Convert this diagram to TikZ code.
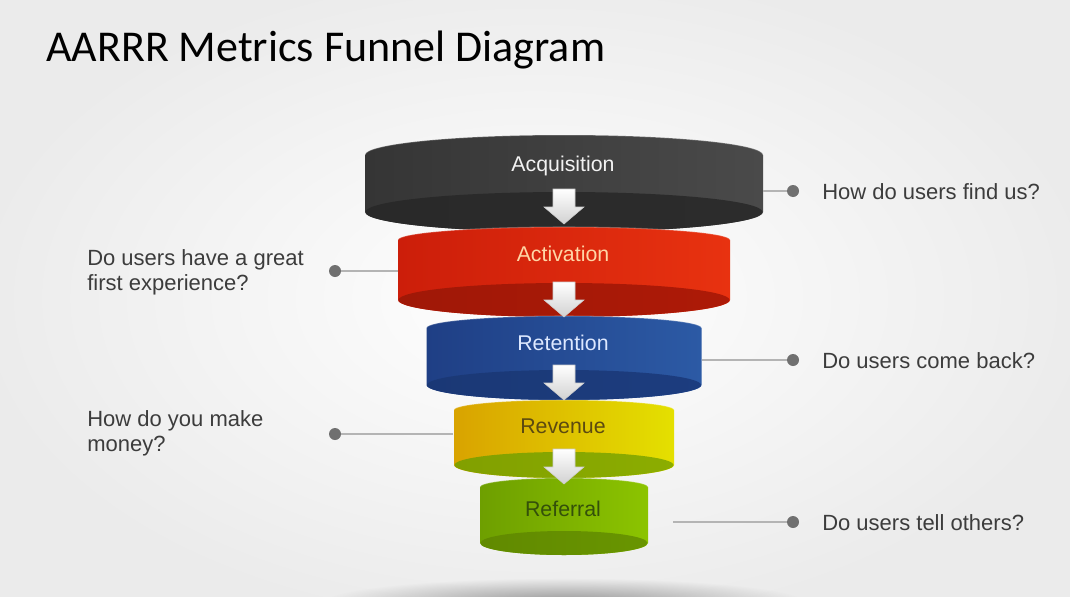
\documentclass[tikz,border=0pt]{standalone}
\usepackage{fontspec}
\setmainfont{Liberation Sans}
\newfontfamily\titlefont{Carlito}
\usetikzlibrary{fadings}
\tikzfading[name=softshadow, inner color=transparent!20, outer color=transparent!100]
\definecolor{labelgray}{HTML}{3C3C3C}
\definecolor{dotgray}{HTML}{707070}
\definecolor{linegray}{HTML}{B4B4B4}
\definecolor{gL}{HTML}{353535}\definecolor{gM}{HTML}{585858}\definecolor{gR}{HTML}{4A4A4A}\definecolor{gF}{HTML}{303030}
\definecolor{rL}{HTML}{CC1E0A}\definecolor{rM}{HTML}{F26212}\definecolor{rR}{HTML}{E83210}\definecolor{rF}{HTML}{BC1C08}
\definecolor{bL}{HTML}{1F3F85}\definecolor{bM}{HTML}{3E6CB5}\definecolor{bR}{HTML}{2C5AA5}\definecolor{bF}{HTML}{1F428A}
\definecolor{yL}{HTML}{D9A300}\definecolor{yM}{HTML}{F7D800}\definecolor{yR}{HTML}{E4E000}\definecolor{yF}{HTML}{98BC00}
\definecolor{vL}{HTML}{6E9F00}\definecolor{vM}{HTML}{9CCB14}\definecolor{vR}{HTML}{8CC400}\definecolor{vF}{HTML}{72A200}
\definecolor{acqtxt}{HTML}{F2F2F2}
\definecolor{acttxt}{HTML}{FFD6A6}
\definecolor{rettxt}{HTML}{DDE8FF}
\definecolor{revtxt}{HTML}{5C4A10}
\definecolor{reftxt}{HTML}{34500A}
% disk: rx, top cy, top ry, bottom cy, bottom ry, left, middle, right, face
\newcommand\fdisk[9]{%
  \shade[left color=#6, middle color=#7, right color=#8]
    (564-#1,#2) arc[start angle=180,end angle=360,x radius=#1,y radius=#3]
    -- (564+#1,#4) arc[start angle=0,end angle=180,x radius=#1,y radius=#5] -- cycle;
  \shade[left color=#9!85!black, middle color=#9, right color=#9!92!black]
    (564,#4) ellipse[x radius=#1-0.5, y radius=#5];
  \draw[white, opacity=0.25, line width=0.8pt]
    (564-#1,#2) arc[start angle=180,end angle=360,x radius=#1,y radius=#3];
}
\newcommand\farrow[1]{%
  \shadedraw[top color=white, bottom color=black!18, draw=black!20, line width=0.4pt]
    (553,#1) -- (575,#1) -- (575,#1+18) -- (584,#1+18) -- (564,#1+35)
    -- (544,#1+18) -- (553,#1+18) -- cycle;
}
\begin{document}
\begin{tikzpicture}[x=0.75pt,y=-0.75pt,
  lbl/.style={font=\fontsize{16.5}{18.75}\selectfont, text=labelgray, inner sep=0pt, align=left},
  disklbl/.style={font=\fontsize{16}{19}\selectfont, inner sep=0pt, anchor=base},
  dot/.style={circle, fill=dotgray, inner sep=0pt, minimum size=9pt},
  conn/.style={draw=linegray, line width=1.1pt}]
\useasboundingbox (0,0) rectangle (1070,596);
\shade[inner color=white, outer color=black!8] (-40,-40) rectangle (1110,636);
% bottom shadow
\fill[black!50, path fading=softshadow] (564,602) ellipse[x radius=240, y radius=24];
% title
\node[anchor=base west, inner sep=0pt, font=\titlefont\fontsize{33}{38}\selectfont] (title) at (46,61) {AARRR Metrics Funnel Diagram};
% disks
\fdisk{199}{155}{20}{212}{20}{gL}{gM}{gR}{gF}
\fdisk{166}{240}{13}{300}{17}{rL}{rM}{rR}{rF}
\fdisk{137.5}{328}{12}{385}{15}{bL}{bM}{bR}{bF}
\fdisk{110}{410}{10}{465}{13}{yL}{yM}{yR}{yF}
\fdisk{84}{487}{9}{543}{12}{vL}{vM}{vR}{vF}
% arrows
\farrow{189}
\farrow{282}
\farrow{365}
\farrow{449}
% disk labels
\node[disklbl, text=acqtxt] (acq) at (563,171) {Acquisition};
\node[disklbl, text=acttxt] (act) at (563,261) {Activation};
\node[disklbl, text=rettxt] (ret) at (563,350) {Retention};
\node[disklbl, text=revtxt] (rev) at (563,433) {Revenue};
\node[disklbl, text=reftxt] (ref) at (563,516) {Referral};
% connector end points on disks
\coordinate (e1) at (763,191);
\coordinate (e2) at (398,271);
\coordinate (e3) at (702,360);
\coordinate (e4) at (453,434);
\coordinate (e5) at (673,522);
% dots
\node[dot] (d1) at (793,191) {};
\node[dot] (d2) at (335,271) {};
\node[dot] (d3) at (793,360) {};
\node[dot] (d4) at (335,434) {};
\node[dot] (d5) at (793,522) {};
\draw[conn] (e1) -- (d1);
\draw[conn] (e2) -- (d2);
\draw[conn] (e3) -- (d3);
\draw[conn] (e4) -- (d4);
\draw[conn] (e5) -- (d5);
% labels
\node[lbl, anchor=base west] (q1) at (822,199) {How do users find us?};
\node[lbl, anchor=west] (q2) at (87,272) {Do users have a great\\first experience?};
\node[lbl, anchor=base west] (q3) at (822,368) {Do users come back?};
\node[lbl, anchor=west] (q4) at (87,433) {How do you make\\money?};
\node[lbl, anchor=base west] (q5) at (822,530) {Do users tell others?};
\end{tikzpicture}
\end{document}
